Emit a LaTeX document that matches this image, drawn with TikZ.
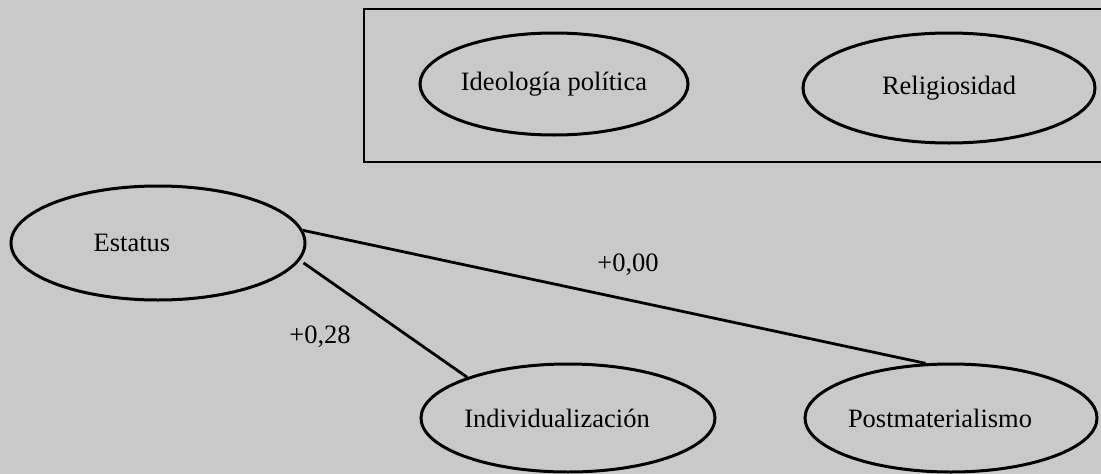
\documentclass[tikz,border=0pt]{standalone}
\usepackage{fontspec}
\setmainfont{Liberation Serif}
\usetikzlibrary{shapes.geometric}
\definecolor{halftone}{gray}{0.79}
\tikzset{
  var/.style={draw=black, ellipse, line width=3pt, inner sep=0pt,
    font=\fontsize{26.5}{30}\selectfont},
  coef/.style={inner sep=0pt, font=\fontsize{26.5}{30}\selectfont},
  link/.style={line width=2.8pt},
  frame/.style={line width=2.8pt}
}
\begin{document}
\begin{tikzpicture}[x=1pt,y=-1pt]
\useasboundingbox (0,0) rectangle (1101,474);
\fill[halftone] (0,0) rectangle (1101,474);
\clip (0,0) rectangle (1101,474);
\draw[frame] (364,9) rectangle (1115,162);
\node[var, minimum width=268pt, minimum height=102pt] (ideo) at (554,84) {Ideología política};
\node[var, minimum width=292pt, minimum height=110pt] (reli) at (949,88) {Religiosidad};
\node[var, minimum width=294pt, minimum height=114pt] (est) at (158,243) {Estatus\hspace*{52pt}};
\node[var, minimum width=294pt, minimum height=108pt] (ind) at (568,418) {Individualización\hspace*{22pt}};
\node[var, minimum width=292pt, minimum height=108pt] (post) at (951,418) {Postmaterialismo\hspace*{22pt}};
\draw[link] (est.5) -- (post.115);
\draw[link] ([xshift=10pt,yshift=4pt]est.-10) -- (ind.158);
\node[coef] (c28) at (320,337) {+0,28};
\node[coef] (c00) at (628,265) {+0,00};
\end{tikzpicture}
\end{document}
